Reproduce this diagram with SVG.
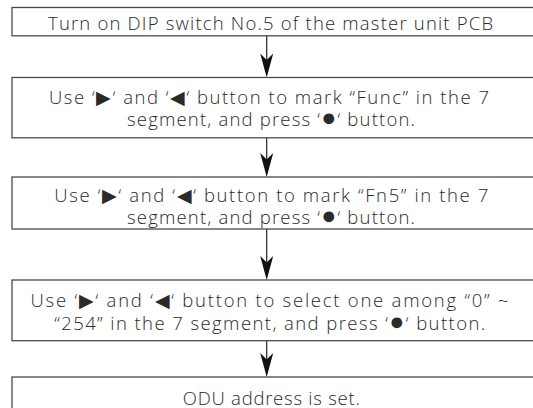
<svg xmlns="http://www.w3.org/2000/svg" width="533" height="408" viewBox="0 0 533 408">
<defs>
<style>
.box{fill:#fff;stroke:#4a4a4a;stroke-width:1.3}
.t{font-family:"Open Sans","Liberation Sans","DejaVu Sans",sans-serif;font-weight:300;font-size:18.5px;fill:#2a2a2a;text-anchor:middle}
.d{font-family:"DejaVu Sans",sans-serif;font-size:25px}
.ln{stroke:#222;stroke-width:1.2;fill:none}
.ah{fill:#111;stroke:none}
</style>
</defs>
<rect width="533" height="408" fill="#fff"/>
<g id="connectors">
<line class="ln" x1="266.7" y1="36" x2="266.7" y2="60"/>
<path class="ah" d="M266.7,77.5 L260.2,53.5 L266.7,60 L273.2,53.5 Z"/>
<line class="ln" x1="266.7" y1="138" x2="266.7" y2="160"/>
<path class="ah" d="M266.7,177 L260.2,153 L266.7,159.5 L273.2,153 Z"/>
<line class="ln" x1="266.7" y1="229" x2="266.7" y2="263"/>
<path class="ah" d="M266.7,280 L260.2,256 L266.7,262.5 L273.2,256 Z"/>
<line class="ln" x1="266.7" y1="341" x2="266.7" y2="360"/>
<path class="ah" d="M266.7,377 L260.2,353 L266.7,359.5 L273.2,353 Z"/>
</g>
<g id="step1">
<rect class="box" x="12" y="7.5" width="525" height="28.3"/>
<text class="t" x="270.5" y="30" textLength="445" lengthAdjust="spacing">Turn on DIP switch No.5 of the master unit PCB</text>
</g>
<g id="step2">
<rect class="box" x="12" y="77.5" width="525" height="60.3"/>
<text class="t" x="269" y="104" textLength="440" lengthAdjust="spacing">Use ‘▶‘ and ‘◀‘ button to mark “Func” in the 7</text>
<text class="t" x="271" y="126" textLength="288" lengthAdjust="spacing">segment, and press ‘<tspan class="d">●</tspan>‘ button.</text>
</g>
<g id="step3">
<rect class="box" x="12" y="177" width="525" height="52"/>
<text class="t" x="271.3" y="202" textLength="434" lengthAdjust="spacing">Use ‘▶‘ and ‘◀‘ button to mark “Fn5” in the 7</text>
<text class="t" x="271" y="223.5" textLength="288" lengthAdjust="spacing">segment, and press ‘<tspan class="d">●</tspan>‘ button.</text>
</g>
<g id="step4">
<rect class="box" x="12" y="280" width="525" height="60.7"/>
<text class="t" x="269.5" y="306.5" textLength="478" lengthAdjust="spacing">Use ‘▶‘ and ‘◀‘ button to select one among  “0” ~</text>
<text class="t" x="269.7" y="330" textLength="431" lengthAdjust="spacing">“254” in the 7 segment, and press ‘<tspan class="d">●</tspan>‘ button.</text>
</g>
<g id="step5">
<rect class="box" x="12" y="377" width="525" height="40"/>
<text class="t" x="271.3" y="405" textLength="177" lengthAdjust="spacing">ODU address is set.</text>
</g>
</svg>
